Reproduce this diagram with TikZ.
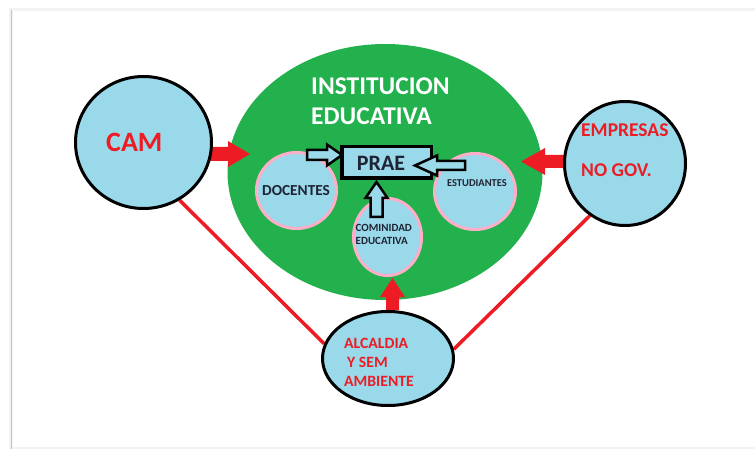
\documentclass[tikz,border=0pt]{standalone}
\usepackage{fontspec}
\setmainfont{Carlito}
\usetikzlibrary{shapes.geometric,calc}
\pgfdeclarelayer{background}
\pgfsetlayers{background,main}
\definecolor{lblue}{HTML}{99D9EA}
\definecolor{pgreen}{HTML}{22B14C}
\definecolor{pred}{HTML}{ED1C24}
\definecolor{ppink}{HTML}{FFAEC9}
\definecolor{dtext}{HTML}{1F2333}
\newcommand{\blockarrow}[6]{%
  \coordinate (ba-base) at ($(#3)!#6!(#2)$);
  \path[#1] ($(#2)!#4!90:(#3)$) -- ($(ba-base)!#4!90:(#3)$) -- ($(ba-base)!#5!90:(#3)$) -- (#3)
     -- ($(ba-base)!#5!-90:(#3)$) -- ($(ba-base)!#4!-90:(#3)$) -- ($(#2)!#4!-90:(#3)$) -- cycle;
}
\tikzset{
  outerc/.style={ellipse, draw=black, line width=3pt, fill=lblue, inner sep=0pt},
  innerc/.style={ellipse, draw=ppink, line width=3pt, fill=lblue, inner sep=0pt},
  redarrow/.style={fill=pred},
  hollowarrow/.style={draw=black, line width=2.5pt, fill=lblue, line join=miter},
  redlink/.style={draw=pred, line width=3.5pt},
  txt/.style={inner sep=0pt, font=\bfseries},
}
\begin{document}
\begin{tikzpicture}[x=1pt,y=-1pt]
\useasboundingbox (0,0) rectangle (755,449);
% inner ellipses
\node[innerc, minimum width=80pt, minimum height=76pt] (doc) at (296.5,190.5) {};
\node[innerc, minimum width=81pt, minimum height=76pt] (est) at (475,191.5) {};
\node[innerc, minimum width=68pt, minimum height=77pt] (com) at (387.5,237) {};
% outer circles
\node[outerc, minimum width=136pt, minimum height=132pt] (cam) at (143.5,142.5) {};
\node[outerc, minimum width=121pt, minimum height=124pt] (emp) at (625,163.5) {};
\node[outerc, minimum width=131pt, minimum height=94pt] (alc) at (388,358.5) {};
% background: frame, green ellipse, red arrows and links
\coordinate (camA) at (208,154);
\coordinate (camB) at (250,154);
\coordinate (empA) at (565,161.5);
\coordinate (empB) at (521,161.5);
\coordinate (alcA) at (392.5,310);
\coordinate (alcB) at (392.5,278);
\begin{pgfonlayer}{background}
\fill[gray!10] (9,8) rectangle (755,449);
\fill[white] (13,11) rectangle (755,447);
\draw[gray!45, line width=1.5pt] (11.5,10) -- (11.5,449);
\fill[pgreen] (385,172) ellipse [x radius=157.5, y radius=128];
\blockarrow{redarrow}{camA}{camB}{7pt}{13pt}{22pt}
\blockarrow{redarrow}{empA}{empB}{6.5pt}{13.5pt}{24pt}
\blockarrow{redarrow}{alcA}{alcB}{6.5pt}{12.5pt}{19pt}
\draw[redlink] (cam.-58) -- (alc.167);
\draw[redlink] (emp.-124) -- (alc.8);
\end{pgfonlayer}
% PRAE box
\node[draw=black, line width=3.5pt, fill=lblue, inner sep=0pt, minimum width=89.5pt, minimum height=31.5pt] (prae) at (386.5,162.5) {};
% hollow arrows
\coordinate (hlA) at (307,155);
\coordinate (hlB) at (342,155);
\coordinate (hrA) at (465,165.5);
\coordinate (hrB) at (415,165.5);
\coordinate (huA) at (376.5,217);
\coordinate (huB) at (376.5,182);
\blockarrow{hollowarrow}{hlA}{hlB}{5pt}{10.5pt}{15pt}
\blockarrow{hollowarrow}{hrA}{hrB}{4.5pt}{10pt}{22pt}
\blockarrow{hollowarrow}{huA}{huB}{6pt}{11pt}{16pt}
% texts
\node[txt, text=white, anchor=base west, font=\bfseries\fontsize{25.5}{30}\selectfont] (t1) at (311,95) {INSTITUCION};
\node[txt, text=white, anchor=base west, font=\bfseries\fontsize{25.5}{30}\selectfont] (t2) at (311,125) {EDUCATIVA};
\node[txt, text=pred, anchor=base west, font=\bfseries\fontsize{28}{32}\selectfont] (tcam) at (106,152) {CAM};
\node[txt, text=pred, anchor=base west, font=\bfseries\fontsize{19.5}{23}\selectfont] (temp1) at (581,137) {EMPRESAS};
\node[txt, text=pred, anchor=base west, font=\bfseries\fontsize{19.5}{23}\selectfont] (temp2) at (581,177) {NO GOV.};
\node[txt, text=pred, anchor=base west, font=\bfseries\fontsize{15.7}{19}\selectfont] (talc1) at (344,348) {ALCALDIA};
\node[txt, text=pred, anchor=base west, font=\bfseries\fontsize{15.7}{19}\selectfont] (talc2) at (347,367) {Y SEM};
\node[txt, text=pred, anchor=base west, font=\bfseries\fontsize{15.7}{19}\selectfont] (talc3) at (344,386) {AMBIENTE};
\node[txt, text=dtext, anchor=base, font=\bfseries\fontsize{22}{26}\selectfont] (tprae) at (381,171) {PRAE};
\node[txt, text=dtext, anchor=base, font=\bfseries\fontsize{15.3}{18}\selectfont] (tdoc) at (296,196) {DOCENTES};
\node[txt, text=dtext, anchor=base, font=\bfseries\fontsize{10.5}{13}\selectfont] (test) at (477,187) {ESTUDIANTES};
\node[txt, text=dtext, anchor=base west, font=\bfseries\fontsize{11}{13}\selectfont] (tcom1) at (355.5,232) {COMINIDAD};
\node[txt, text=dtext, anchor=base west, font=\bfseries\fontsize{11}{13}\selectfont] (tcom2) at (355.5,244) {EDUCATIVA};
\end{tikzpicture}
\end{document}
